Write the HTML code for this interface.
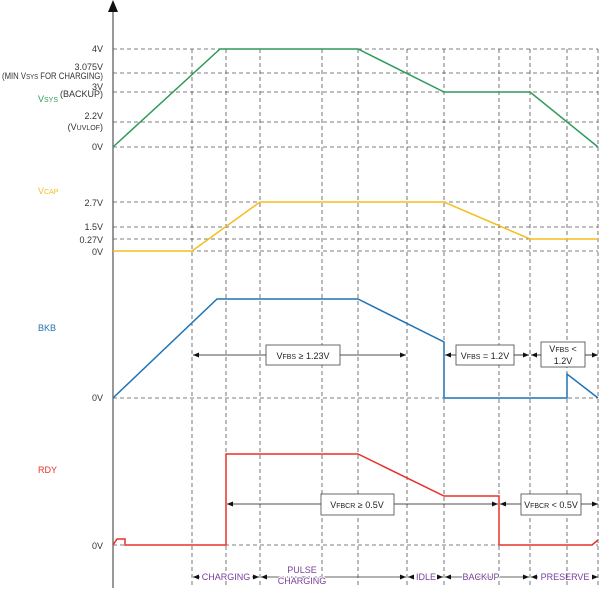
<!DOCTYPE html>
<html><head><meta charset="utf-8"><style>
body{margin:0;background:#fff}
text{font-family:"Liberation Sans",sans-serif;font-size:9px}
</style></head><body>
<svg width="600" height="590" viewBox="0 0 600 590" xmlns="http://www.w3.org/2000/svg">
<defs>
<marker id="a" markerWidth="6" markerHeight="6" refX="6" refY="3" orient="auto" markerUnits="userSpaceOnUse"><path d="M0,0.5 L6,3 L0,5.5z" fill="#111"/></marker>
</defs>
<g stroke="#555" stroke-width="0.8" stroke-dasharray="4,3" fill="none">
<path d="M113 49H598M113 73H598M113 92H598M113 122H598M113 147H598M113 202H598M113 227H598M113 239H598M113 251H598M113 398H598M113 545H598"/>
<path d="M192 49V585M226 49V585M260 49V585M322 49V585M358 49V585M407 49V585M444 49V585M499 49V585M530 49V585M567 49V585M598 49V585"/>
</g>
<line x1="113" y1="588" x2="113" y2="10" stroke="#555" stroke-width="1.2"/>
<path d="M108,12 L113,0 L118,12z" fill="#111"/>
<g fill="none" stroke-width="1.5">
<polyline stroke="#2e9a5c" points="113,147 220,49 358,49 444,92 530,92 598,147"/>
<polyline stroke="#f5bd1f" points="113,251 192,251 260,202 444,202 530,239 598,239"/>
<polyline stroke="#1f74b4" points="113,398 217,299 358,299 444,342 444,398 567,398 567,374 598,398"/>
<polyline stroke="#e8302a" points="113,545 117,539 125,539 125,545 226,545 226,454 358,454 444,496 499,496 499,545 592,545 598,540"/>
</g>
<g stroke="#111" stroke-width="0.8" marker-end="url(#a)">
<line x1="266" y1="355" x2="193" y2="355"/><line x1="340" y1="355" x2="406" y2="355"/>
<line x1="456" y1="355" x2="445" y2="355"/><line x1="514" y1="355" x2="529" y2="355"/>
<line x1="541" y1="355" x2="531" y2="355"/><line x1="585" y1="355" x2="598" y2="355"/>
<line x1="321" y1="504" x2="227" y2="504"/><line x1="394" y1="504" x2="498" y2="504"/>
<line x1="521" y1="504" x2="500" y2="504"/><line x1="581" y1="504" x2="598" y2="504"/>
</g>
<g fill="#fff" stroke="#444" stroke-width="0.8">
<rect x="266" y="345" width="74" height="20"/><rect x="456" y="345" width="58" height="20"/><rect x="541" y="342" width="44" height="25"/>
<rect x="321" y="494" width="73" height="21"/><rect x="521" y="494" width="60" height="21"/>
</g>
<g fill="#222" text-anchor="middle">
<text x="303" y="359">V<tspan font-size="7">FBS</tspan> ≥ 1.23V</text>
<text x="485" y="359">V<tspan font-size="7">FBS</tspan> = 1.2V</text>
<text x="563" y="352">V<tspan font-size="7">FBS</tspan> &lt;</text><text x="563" y="364">1.2V</text>
<text x="357" y="508">V<tspan font-size="7">FBCR</tspan> ≥ 0.5V</text>
<text x="551" y="508">V<tspan font-size="7">FBCR</tspan> &lt; 0.5V</text>
</g>
<g stroke="#333" stroke-width="0.8" marker-end="url(#a)">
<line x1="200" y1="577" x2="193" y2="577"/><line x1="252" y1="577" x2="259" y2="577"/>
<line x1="270" y1="577" x2="261" y2="577"/><line x1="398" y1="577" x2="406" y2="577"/>
<line x1="414" y1="577" x2="408" y2="577"/><line x1="438" y1="577" x2="443" y2="577"/>
<line x1="452" y1="577" x2="445" y2="577"/><line x1="522" y1="577" x2="529" y2="577"/>
<line x1="538" y1="577" x2="531" y2="577"/><line x1="592" y1="577" x2="598" y2="577"/>
</g>
<g stroke="#333" stroke-width="0.8"><line x1="270" y1="577" x2="398" y2="577"/><line x1="452" y1="577" x2="522" y2="577"/></g>
<g fill="#7a3d9a" text-anchor="middle">
<text x="226" y="580" style="paint-order:stroke" stroke="#fff" stroke-width="2">CHARGING</text>
<text x="302" y="573" style="paint-order:stroke" stroke="#fff" stroke-width="2">PULSE</text>
<text x="302" y="584" style="paint-order:stroke" stroke="#fff" stroke-width="2">CHARGING</text>
<text x="426" y="580">IDLE</text>
<text x="481" y="580" style="paint-order:stroke" stroke="#fff" stroke-width="2">BACKUP</text>
<text x="565" y="580">PRESERVE</text>
</g>
<g fill="#333" text-anchor="end">
<text x="103" y="52">4V</text>
<text x="103" y="70">3.075V</text>
<text x="103" y="90">3V</text>
<text x="103" y="97">(BACKUP)</text>
<text x="103" y="119">2.2V</text>
<text x="103" y="130">(V<tspan font-size="7">UVLOF</tspan>)</text>
<text x="103" y="150">0V</text>
<text x="103" y="206">2.7V</text>
<text x="103" y="230">1.5V</text>
<text x="103" y="243">0.27V</text>
<text x="103" y="255">0V</text>
<text x="103" y="401">0V</text>
<text x="103" y="549">0V</text>
</g>
<text x="2" y="79" fill="#333" font-size="8.5" textLength="101" lengthAdjust="spacingAndGlyphs">(MIN V<tspan font-size="7">SYS</tspan> FOR CHARGING)</text>
<text x="38" y="102" fill="#2e9a5c">V<tspan font-size="7">SYS</tspan></text>
<text x="38" y="194" fill="#f5bd1f">V<tspan font-size="7">CAP</tspan></text>
<text x="38" y="331" fill="#1f74b4">BKB</text>
<text x="38" y="473" fill="#e8302a">RDY</text>
</svg>
</body></html>
